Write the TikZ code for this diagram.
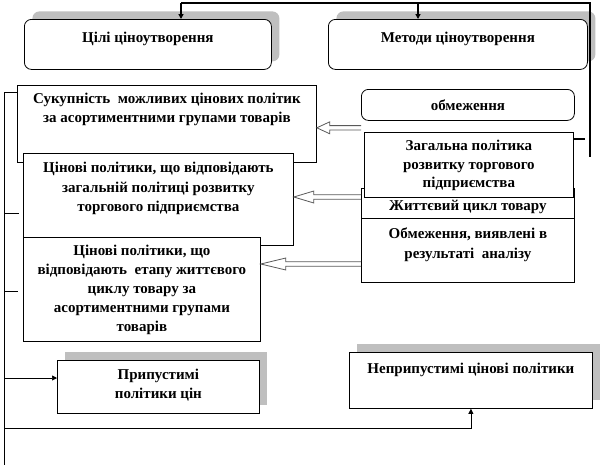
\documentclass[tikz,border=0pt]{standalone}
\usepackage{fontspec}
\setmainfont{Liberation Serif}
\usetikzlibrary{arrows.meta,positioning,shadows,calc}

\tikzset{
  pbox/.style={draw, line width=0.8pt, fill=white, inner sep=0pt, anchor=north west},
  rbox/.style={pbox, rounded corners=7pt},
  shbox/.style={drop shadow={shadow xshift=8pt, shadow yshift=8pt, fill=black!25, opacity=1}},
  txt/.style={align=center, inner sep=0pt, font=\bfseries\fontsize{15}{18.5}\selectfont},
  bigtxt/.style={txt, font=\bfseries\fontsize{15}{19.5}\selectfont},
  harrow/.style={draw=gray!70!black, line width=0.8pt, line join=miter},
  bus/.style={line width=0.6pt},
  tip/.style={-{Triangle[length=5pt,width=5pt]}},
}
% hollow block arrow: from #1 to #2 (same level), head length #3
\newcommand{\holarrow}[3]{%
  \draw[harrow] ($(#1)+(0,-2.2)$) -- ($(#2)+(#3,-2.2)$) -- ($(#2)+(#3,-6)$) -- (#2)
    -- ($(#2)+(#3,6)$) -- ($(#2)+(#3,2.2)$) -- ($(#1)+(0,2.2)$);}

\begin{document}
\begin{tikzpicture}[x=1pt,y=-1pt]
\useasboundingbox (0,0) rectangle (601,469);

% upper row
\node[rbox, shbox, minimum width=247, minimum height=50] (tsili) at (24,19) {};
\node[txt, below=13pt of tsili.north] {Цілі ціноутворення};
\node[rbox, shbox, minimum width=259, minimum height=50] (metody) at (328,19) {};
\node[txt, below=13pt of metody.north] {Методи ціноутворення};

% left column
\node[pbox, minimum width=299, minimum height=77] (sukup) at (17,85) {};
\node[txt, below=8pt of sukup.north] {Сукупність \ можливих цінових політик\\за асортиментними групами товарів};
\node[pbox, minimum width=270, minimum height=92] (tsin1) at (23,153) {};
\node[bigtxt, below=9pt of tsin1.north] {Цінові політики, що відповідають\\загальній політиці розвитку\\торгового підприємства};
\node[pbox, minimum width=237, minimum height=104] (tsin2) at (23,237) {};
\node[txt, font=\bfseries\fontsize{15}{19}\selectfont, below=8pt of tsin2.north] {Цінові політики, що\\відповідають \ етапу життєвого\\циклу товару за\\асортиментними групами\\товарів};
\node[pbox, shbox, minimum width=202, minimum height=53] (prypust) at (57,360) {};
\node[txt, font=\bfseries\fontsize{15}{19}\selectfont, below=9pt of prypust.north] {Припустимі\\політики цін};

% right column
\node[rbox, minimum width=213, minimum height=31] (obm) at (361,89) {};
\node[txt, below=11pt of obm.north] {обмеження};
\node[pbox, minimum width=213, minimum height=94] (life) at (361,188) {};
\draw[line width=0.8pt] ([yshift=-30pt]life.north west) -- ([yshift=-30pt]life.north east);
\node[txt, below=12pt of life.north] {Життєвий цикл товару};
\node[txt, font=\bfseries\fontsize{15}{20}\selectfont, below=40pt of life.north] {Обмеження, виявлені в\\результаті \ аналізу};
\node[pbox, minimum width=209, minimum height=65] (zagal) at (364,132) {};
\node[txt, below=8pt of zagal.north] {Загальна політика\\розвитку торгового\\підприємства};
\node[pbox, shbox, minimum width=243, minimum height=56] (nepryp) at (349,352) {};
\node[txt, below=11pt of nepryp.north] {Неприпустимі цінові політики};

% top connectors
\coordinate (tl) at (181,3);
\coordinate (tm) at (418,3);
\coordinate (tr) at (590,157);
\draw[line width=1.6pt] (tl) -- (tl -| tr) -- (tr);
\draw[line width=1.4pt, tip] (tl) -- (tl |- tsili.north);
\draw[line width=1.4pt, tip] (tm) -- (tm |- metody.north);
\draw[line width=1.6pt] ([yshift=-7pt]zagal.north east) -- ++(11,0);

% hollow arrows
\coordinate (a1) at ([yshift=-7pt]obm.south west);
\coordinate (a2) at ([yshift=-9pt]life.north west);
\coordinate (a3) at ([yshift=-76pt]life.north west);
\coordinate (e1) at (a1 -| sukup.east);
\coordinate (e2) at (a2 -| tsin1.east);
\coordinate (e3) at (a3 -| tsin2.east);
\holarrow{a1}{e1}{13}
\holarrow{a2}{e2}{20}
\holarrow{a3}{e3}{25}

% left bus
\coordinate (b1) at (4,92);
\coordinate (b2) at (4,213);
\coordinate (b3) at (4,291);
\coordinate (b4) at (4,378);
\coordinate (b5) at (4,428);
\coordinate (b6) at (4,465);
\draw[bus] (b1) -- (b6);
\draw[bus] (b1) -- (b1 -| sukup.west);
\draw[bus] (b2) -- ([xshift=-4pt]b2 -| tsin1.west);
\draw[bus] (b3) -- ([xshift=-5pt]b3 -| tsin2.west);
\draw[bus, tip] (b4) -- (b4 -| prypust.west);
\draw[bus, tip] (b5) -| (nepryp.south);
\end{tikzpicture}
\end{document}
